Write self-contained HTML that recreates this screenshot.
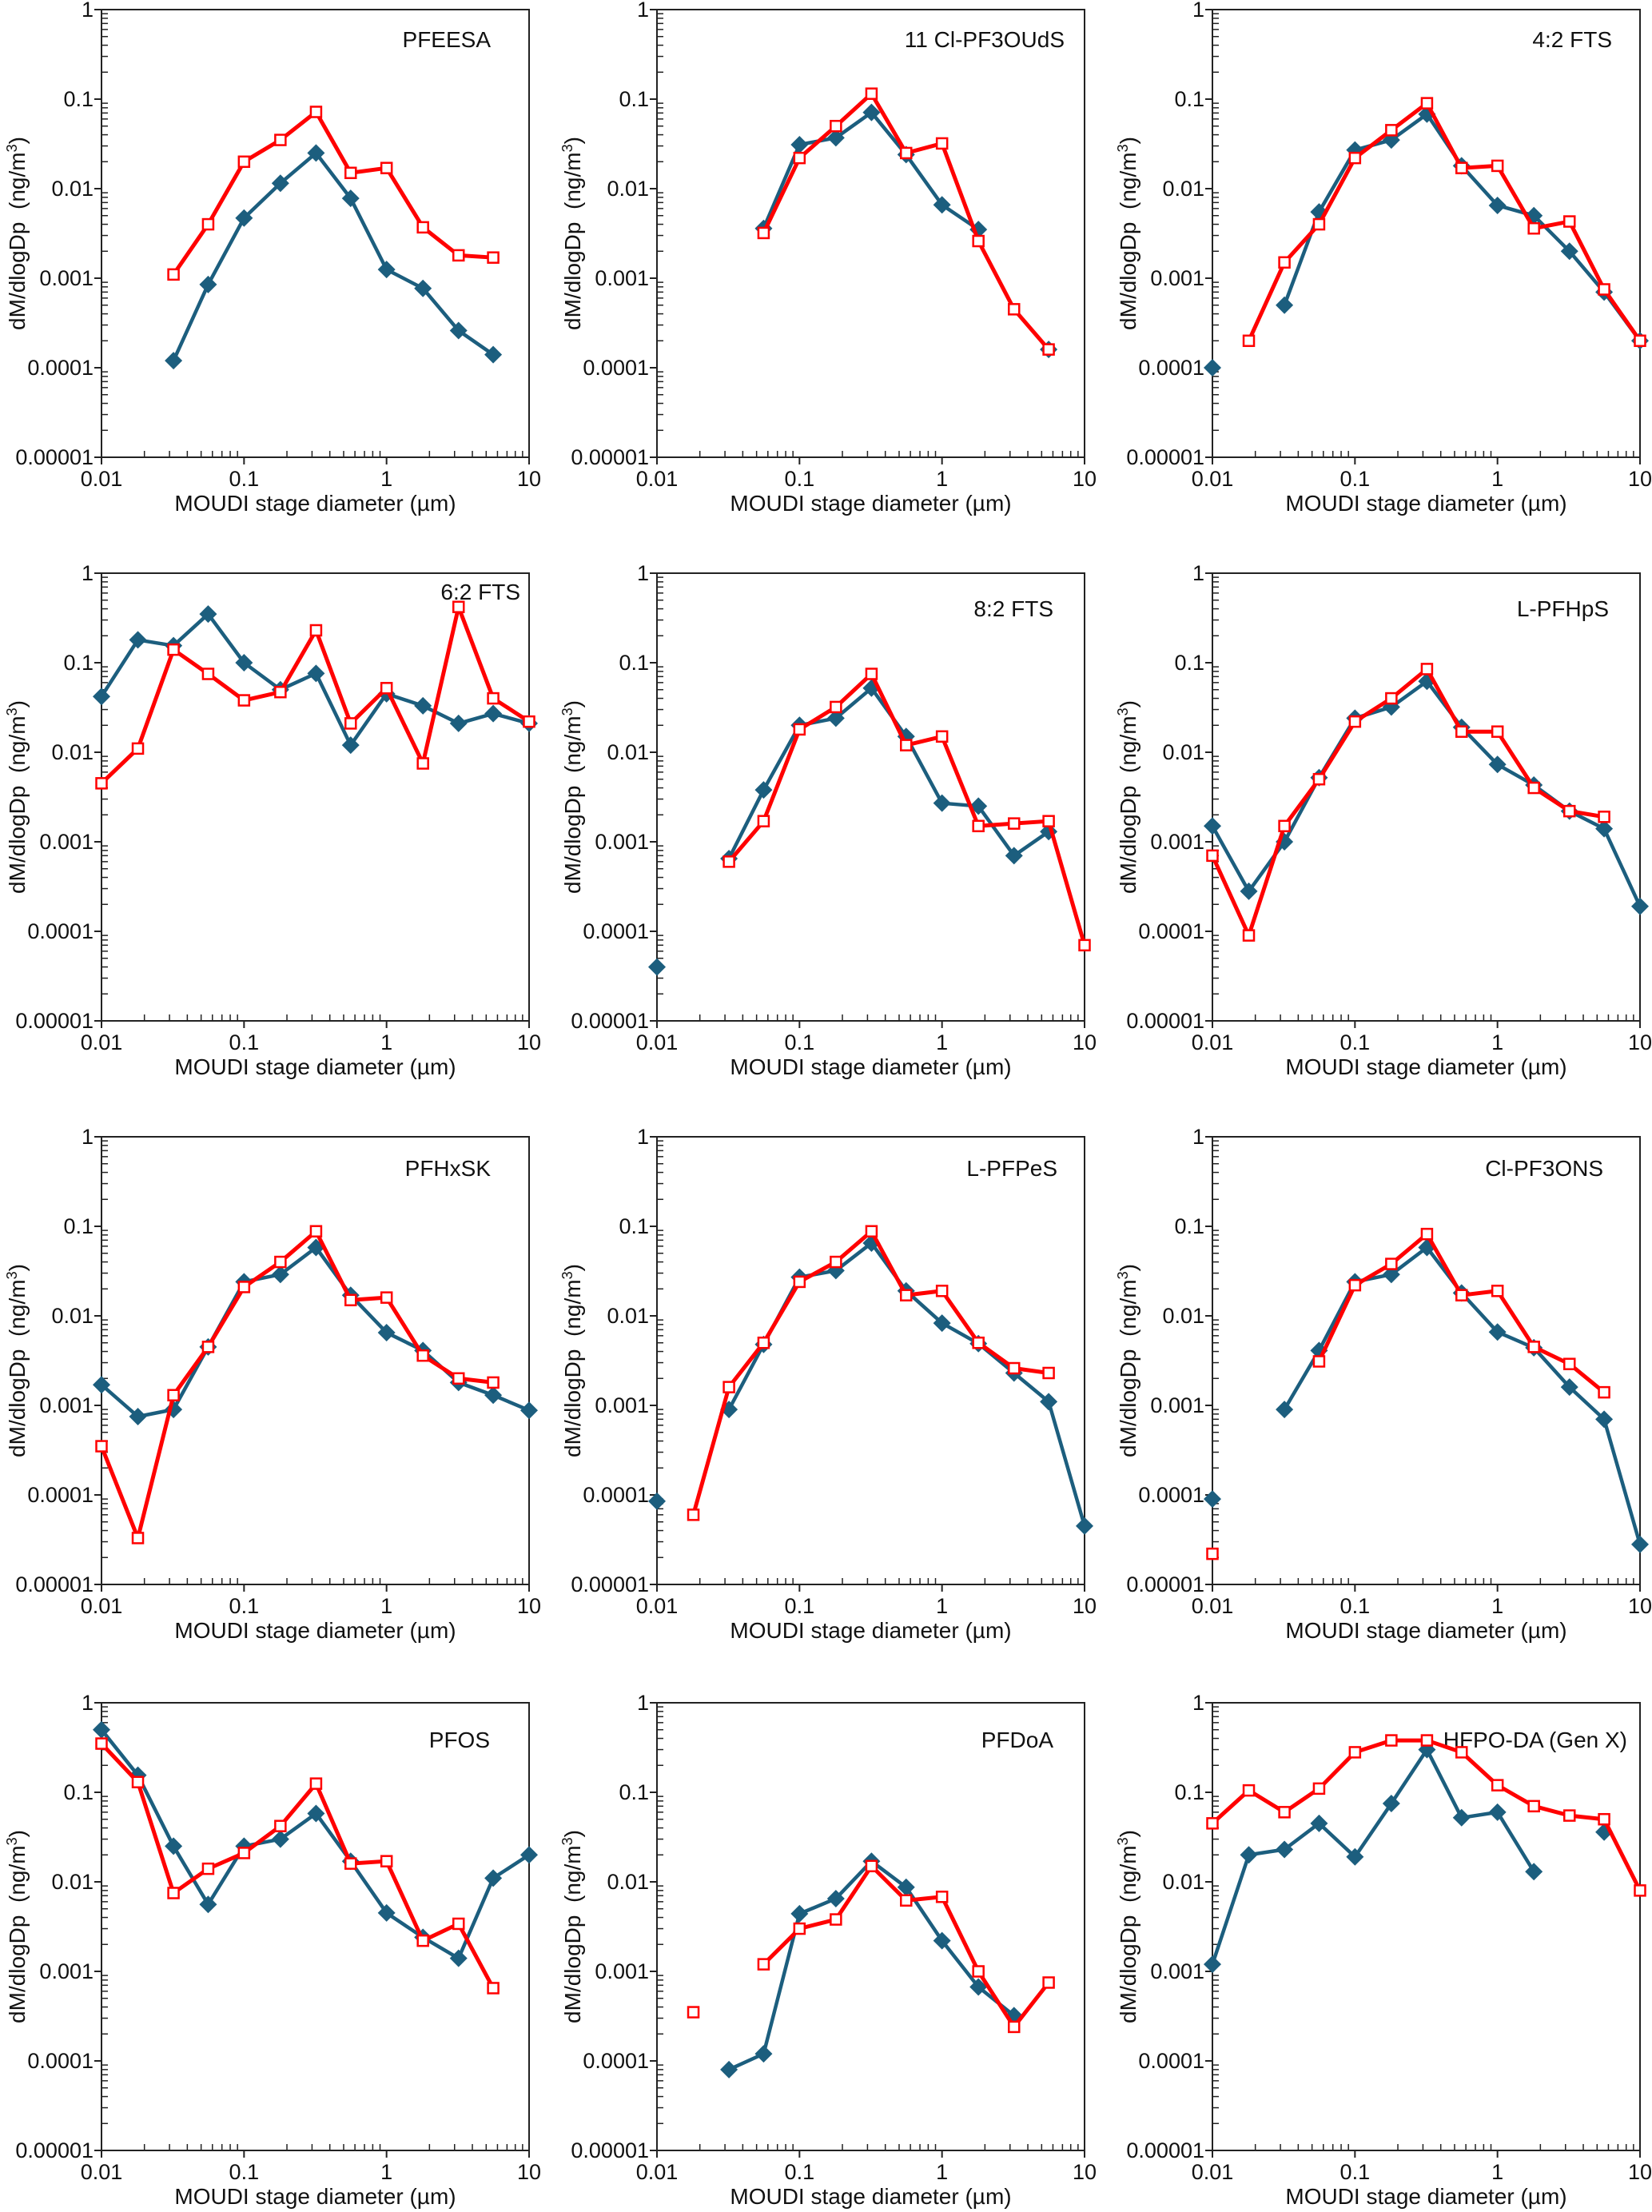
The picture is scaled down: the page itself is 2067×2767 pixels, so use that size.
<!DOCTYPE html>
<html><head><meta charset="utf-8">
<style>
html,body{margin:0;padding:0;background:#fff;}
svg{display:block;font-family:"Liberation Sans",Arial,sans-serif;}
</style></head>
<body>
<svg id="fig" width="2067" height="2767" viewBox="0 0 2067 2767" xmlns="http://www.w3.org/2000/svg"></svg>
<script>
const NS="http://www.w3.org/2000/svg";
const xStages=[0.01,0.018,0.032,0.056,0.1,0.18,0.32,0.56,1,1.8,3.2,5.6,10];
const xTickLabels=["0.01","0.1","1","10"];
const yTickLabels=["1","0.1","0.01","0.001","0.0001","0.00001"];
const panelNames=["PFEESA","11 Cl-PF3OUdS","4:2 FTS","6:2 FTS","8:2 FTS","L-PFHpS","PFHxSK","L-PFPeS","Cl-PF3ONS","PFOS","PFDoA","HFPO-DA (Gen X)"];
const N=null;
const redP1=[N,N,0.0011,0.004,0.02,0.035,0.072,0.015,0.017,0.0037,0.0018,0.0017,N];
const blueP1=[N,N,0.00012,0.00085,0.0047,0.0115,0.025,0.0078,0.00125,0.00077,0.00026,0.00014,N];
const redP2=[N,N,N,0.0032,0.022,0.05,0.115,0.025,0.032,0.0026,0.00045,0.00016,N];
const blueP2=[N,N,N,0.0036,0.031,0.037,0.071,0.024,0.0066,0.0035,N,0.00016,N];
const redP3=[N,0.0002,0.0015,0.004,0.022,0.045,0.09,0.017,0.018,0.0036,0.0043,0.00075,0.0002];
const blueP3=[0.0001,N,0.0005,0.0055,0.027,0.035,0.068,0.018,0.0065,0.005,0.002,0.0007,0.0002];
const redP4=[0.0045,0.011,0.14,0.075,0.038,0.047,0.23,0.021,0.052,0.0075,0.42,0.04,0.022];
const blueP4=[0.042,0.18,0.155,0.35,0.1,0.05,0.076,0.012,0.045,0.033,0.021,0.027,0.021];
const redP5=[N,N,0.0006,0.0017,0.018,0.032,0.075,0.012,0.015,0.0015,0.0016,0.0017,0.00007];
const blueP5=[0.00004,N,0.00065,0.0038,0.02,0.024,0.052,0.015,0.0027,0.0025,0.0007,0.0013,N];
const redP6=[0.0007,0.00009,0.0015,0.005,0.022,0.04,0.085,0.017,0.017,0.004,0.0022,0.0019,N];
const blueP6=[0.0015,0.00028,0.001,0.0052,0.024,0.032,0.062,0.019,0.0073,0.0043,0.0022,0.0014,0.00019];
const redP7=[0.00035,0.000033,0.0013,0.0045,0.021,0.04,0.088,0.015,0.016,0.0036,0.002,0.0018,N];
const blueP7=[0.0017,0.00075,0.0009,0.0045,0.024,0.029,0.058,0.017,0.0065,0.0041,0.0018,0.0013,0.00088];
const redP8=[N,0.00006,0.0016,0.005,0.024,0.04,0.088,0.017,0.019,0.005,0.0026,0.0023,N];
const blueP8=[0.000085,N,0.0009,0.0048,0.027,0.032,0.065,0.019,0.0083,0.0049,0.0023,0.0011,0.000045];
const redP9=[0.000022,N,N,0.0031,0.022,0.038,0.082,0.017,0.019,0.0045,0.0029,0.0014,N];
const blueP9=[0.00009,N,0.0009,0.0041,0.024,0.029,0.058,0.018,0.0066,0.0044,0.0016,0.0007,0.000028];
const redP10=[0.35,0.13,0.0075,0.014,0.021,0.042,0.125,0.016,0.017,0.0022,0.0034,0.00065,N];
const blueP10=[0.5,0.155,0.025,0.0056,0.025,0.03,0.058,0.017,0.0045,0.0024,0.0014,0.011,0.02];
const redP11=[N,0.00035,N,0.0012,0.003,0.0038,0.015,0.0062,0.0068,0.001,0.00024,0.00075,N];
const blueP11=[N,N,0.00008,0.00012,0.0044,0.0065,0.017,0.0087,0.0022,0.00067,0.00032,N,N];
const redP12=[0.045,0.105,0.06,0.11,0.28,0.38,0.38,0.28,0.12,0.07,0.055,0.05,0.008];
const blueP12=[0.0012,0.02,0.023,0.045,0.019,0.075,0.3,0.052,0.06,0.013,N,0.036,N];
const redSeries=[redP1,redP2,redP3,redP4,redP5,redP6,redP7,redP8,redP9,redP10,redP11,redP12];
const blueSeries=[blueP1,blueP2,blueP3,blueP4,blueP5,blueP6,blueP7,blueP8,blueP9,blueP10,blueP11,blueP12];

const colLeft=[127,822,1517];
const rowTop=[12,717,1422,2130];
const PW=535, PH=560;
const titleDx=[-48,-25,-35,-11,-39,-39,-48,-34,-46,-49,-39,-16];
const titleDy=[37,37,37,23,44,44,39,39,39,46,46,46];
const RED="#ff0000", BLUE="#1c5e7e";

const svg=document.getElementById('fig');
function el(tag,attrs,parent){const e=document.createElementNS(NS,tag);for(const k in attrs)e.setAttribute(k,attrs[k]);(parent||svg).appendChild(e);return e;}

for(let p=0;p<12;p++){
  const L=colLeft[p%3], T=rowTop[Math.floor(p/3)];
  const g=el('g',{});
  
  
  const xs=v=>L+(Math.log10(v)+2)/3*PW;
  const ys=v=>T+(-Math.log10(v))/5*PH;
  const frame=el('rect',{x:L,y:T,width:PW,height:PH,fill:'none',stroke:'#222','stroke-width':2},g);
  
  
  for(let d=0;d<=5;d++){
    const y=T+d/5*PH;
    el('line',{x1:L-9,x2:L,y1:y,y2:y,stroke:'#222','stroke-width':2},g);
    const t=el('text',{x:L-10,y:y+9,'text-anchor':'end','font-size':27,fill:'#111'},g);
    t.textContent=yTickLabels[d];
    
    
    if(d<5){for(let m=2;m<=9;m++){const yy=ys(Math.pow(10,-d-1)*m);el('line',{x1:L,x2:L+8,y1:yy,y2:yy,stroke:'#222','stroke-width':1.5},g);}}
  }
  for(let d=0;d<=3;d++){
    const x=L+d/3*PW;
    el('line',{x1:x,x2:x,y1:T+PH,y2:T+PH+9,stroke:'#222','stroke-width':2},g);
    const t=el('text',{x:x,y:T+PH+36,'text-anchor':'middle','font-size':27,fill:'#111'},g);
    t.textContent=xTickLabels[d];
    
    
    if(d<3){for(let m=2;m<=9;m++){const xx=xs(Math.pow(10,d-2)*m);el('line',{x1:xx,x2:xx,y1:T+PH,y2:T+PH-8,stroke:'#222','stroke-width':1.5},g);}}
  }
  const xt=el('text',{x:L+PW/2,y:T+PH+67,'text-anchor':'middle','font-size':28,fill:'#111'},g);
  xt.textContent='MOUDI stage diameter (µm)';
  
  
  const yt=el('text',{transform:`translate(${L-96},${T+PH/2}) rotate(-90)`,'text-anchor':'middle','font-size':28,fill:'#111'},g);
  yt.innerHTML='dM/dlogDp&#160;&#160;(ng/m<tspan dy="-10" font-size="18">3</tspan><tspan dy="10">)</tspan>';
  
  
  const tt=el('text',{x:L+PW+titleDx[p],y:T+titleDy[p]+10,'text-anchor':'end','font-size':28,fill:'#111'},g);
  tt.textContent=panelNames[p];
  
  
  [[blueSeries[p],BLUE,'blue'],[redSeries[p],RED,'red']].forEach(([arr,col,nm])=>{
    let seg=[];
    const segs=[];
    for(let i=0;i<arr.length;i++){
      if(arr[i]==null){if(seg.length)segs.push(seg);seg=[];}
      else seg.push([xs(xStages[i]),ys(arr[i])]);
    }
    if(seg.length)segs.push(seg);
    segs.forEach(s=>{if(s.length>1){
      const pl=el('polyline',{points:s.map(q=>q.join(',')).join(' '),fill:'none',stroke:col,'stroke-width':nm==='red'?5:4.5,'stroke-linejoin':'round'},g);
      
      
    }});
    for(let i=0;i<arr.length;i++){
      if(arr[i]==null)continue;
      const x=xs(xStages[i]), y=ys(arr[i]);
      let m;
      if(nm==='red'){m=el('rect',{x:x-6.5,y:y-6.5,width:13,height:13,fill:'#fff',stroke:RED,'stroke-width':2.5},g);}
      else{m=el('polygon',{points:`${x},${y-11} ${x+11},${y} ${x},${y+11} ${x-11},${y}`,fill:BLUE},g);}
      
      
    }
  });
}
</script>
</body></html>
